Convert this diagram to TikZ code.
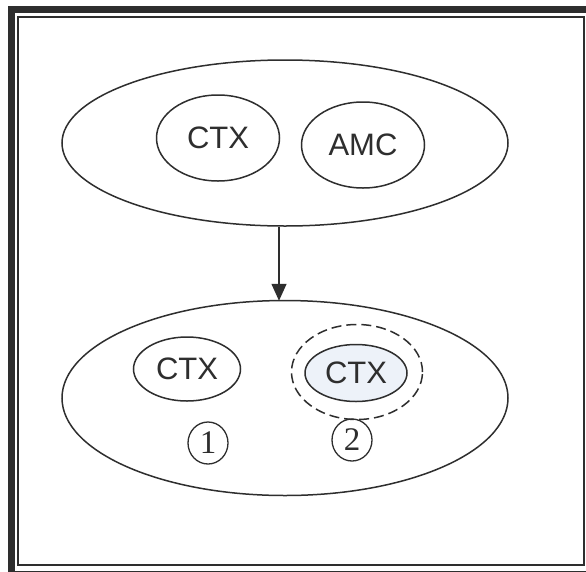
\documentclass[tikz,border=0pt]{standalone}
\usepackage{fontspec}
\setmainfont{Liberation Serif}
\newfontfamily\arialfont{Liberation Sans}
\usetikzlibrary{shapes.geometric,arrows.meta}
\definecolor{ink}{rgb}{0.18,0.18,0.18}
\definecolor{tint}{rgb}{0.93,0.95,0.975}
\tikzset{
  blob/.style={ellipse, draw=ink, line width=1.5pt, inner sep=0pt,
    font=\arialfont\fontsize{31}{31}\selectfont, text=ink},
  numcirc/.style={ellipse, draw=ink, line width=1.3pt, inner sep=0pt,
    minimum width=40pt, minimum height=42pt,
    font=\fontsize{33}{33}\selectfont, text=ink},
  ring/.style={ellipse, draw=ink, line width=1.5pt, dash pattern=on 10pt off 5pt, inner sep=0pt},
  framethick/.style={draw=ink, line width=7pt},
  framethin/.style={draw=ink, line width=1.6pt}
}
\begin{document}
\begin{tikzpicture}[x=1pt,y=-1pt]
\useasboundingbox (0,0) rectangle (586,571);
\fill[white] (0,0) rectangle (586,571);
\clip (0,0) rectangle (586,571);
% frame
\draw[framethick] (11.5,9.5) rectangle (596,574);
\draw[framethin] (17.8,17.2) rectangle (584,565);
% top group
\node[blob, minimum width=446pt, minimum height=166pt] (top) at (285,143) {};
\node[blob, minimum width=123pt, minimum height=86pt] (ctxA) at (218,138) {CTX};
\node[blob, minimum width=123pt, minimum height=86pt] (amc) at (363,145) {AMC};
% bottom group
\node[blob, minimum width=446pt, minimum height=195pt] (bottom) at (285,398) {};
\node[blob, minimum width=107pt, minimum height=64pt] (ctxB) at (187,369) {CTX};
\node[ring, minimum width=131pt, minimum height=95pt] (ringC) at (357,372) {};
\node[blob, fill=tint, minimum width=102pt, minimum height=57pt] (ctxC) at (356,373) {CTX};
\node[numcirc] (n1) at (208,443) {1};
\node[numcirc] (n2) at (352,440) {2};
% arrow
\coordinate (ax) at (279,0);
\draw[draw=ink, line width=1.5pt, -{Triangle[width=15pt,length=17pt]}, shorten >=-1pt]
  (top.south -| ax) -- (bottom.north -| ax);
\end{tikzpicture}
\end{document}
